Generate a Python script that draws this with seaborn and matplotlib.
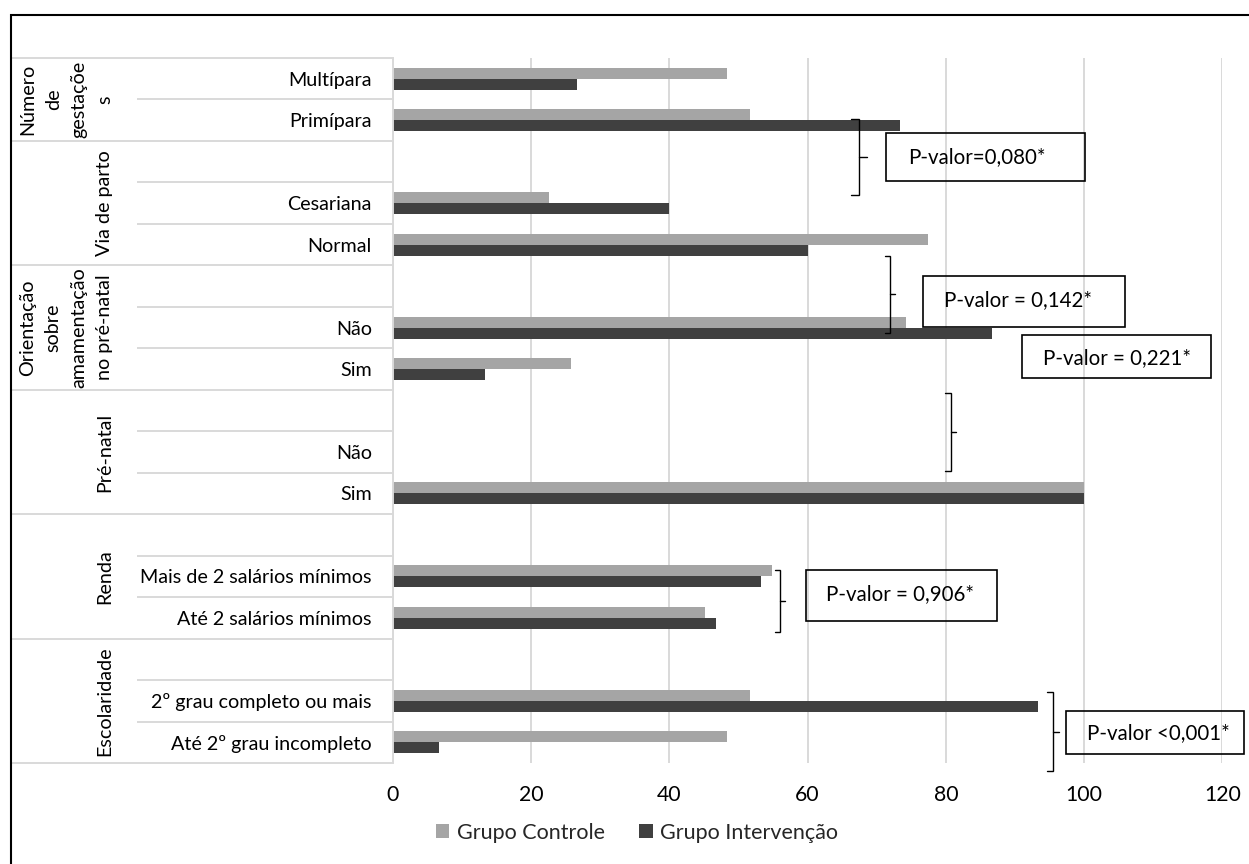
import matplotlib
matplotlib.use("Agg")
import matplotlib.pyplot as plt
import matplotlib.transforms as mtransforms
from matplotlib.patches import Rectangle
import seaborn as sns
import pandas as pd
import numpy as np

# ---------------- data ----------------
group_names = ["Número\nde\ngestaçõe\ns", "Via de parto",
               "Orientação\nsobre\namamentação\nno pré-natal", "Pré-natal",
               "Renda", "Escolaridade"]
row_labels = ["Multípara", "Primípara", "", "Cesariana", "Normal", "", "Não", "Sim",
              "", "Não", "Sim", "", "Mais de 2 salários mínimos", "Até 2 salários mínimos",
              "", "2º grau completo ou mais", "Até 2º grau incompleto"]
row_group = [0, 0, 1, 1, 1, 2, 2, 2, 3, 3, 3, 4, 4, 4, 5, 5, 5]
controle = [48.4, 51.6, None, 22.6, 77.4, None, 74.2, 25.8, None, 0.0, 100.0, None,
            54.8, 45.2, None, 51.6, 48.4]
intervencao = [26.7, 73.3, None, 40.0, 60.0, None, 86.7, 13.3, None, 0.0, 100.0, None,
               53.3, 46.7, None, 93.3, 6.7]
series_names = ["Grupo Controle", "Grupo Intervenção"]
x_ticks = [0, 20, 40, 60, 80, 100, 120]
pvalue_texts = ["P-valor=0,080*", "P-valor = 0,142*", "P-valor = 0,221*",
                "P-valor = 0,906*", "P-valor <0,001*"]

# ---------------- style ----------------
sns.set_theme(style="white")
plt.rcParams["font.family"] = ["Lato", "DejaVu Sans"]

W, H = 1249, 864
fig = plt.figure(figsize=(W / 100, H / 100), dpi=100)
ax_left, ax_right, ax_top, ax_bot = 392.7, 1222.5, 58, 763
ax = fig.add_axes([ax_left / W, 1 - ax_bot / H, (ax_right - ax_left) / W, (ax_bot - ax_top) / H])

row_keys = [f"row{i:02d}" for i in range(len(row_labels))]
recs = []
for k, c, v in zip(row_keys, controle, intervencao):
    if c is not None:
        recs.append({"row": k, "grupo": series_names[0], "valor": c})
        recs.append({"row": k, "grupo": series_names[1], "valor": v})
df = pd.DataFrame(recs)

sns.barplot(data=df, y="row", x="valor", hue="grupo", order=row_keys,
            hue_order=series_names, palette=["#A5A5A5", "#404040"],
            orient="h", width=0.53, errorbar=None, linewidth=0, ax=ax)

ax.set_xlim(0, 120)
ax.set_ylim(len(row_labels) - 0.5, -0.5)
ax.set_xticks(x_ticks)
ax.set_xticklabels([str(t) for t in x_ticks], fontsize=15.3, color="black")
ax.set_yticks(range(len(row_labels)))
ax.set_yticklabels(row_labels, fontsize=14.2, color="black")
ax.tick_params(axis="x", length=0, pad=16)
ax.tick_params(axis="y", length=0, pad=15)
ax.set_xlabel("")
ax.set_ylabel("")
ax.xaxis.grid(True, color="#D9D9D9", lw=1.4)
ax.yaxis.grid(False)
ax.set_axisbelow(True)
for s in ["top", "right", "bottom"]:
    ax.spines[s].set_visible(False)
ax.spines["left"].set_color("#D9D9D9")
ax.spines["left"].set_linewidth(1.4)

# category separators extending into the label area
trans = mtransforms.blended_transform_factory(fig.transFigure, ax.transData)
x_axis_fig = ax_left / W
for i in range(len(row_labels) + 1):
    yb = i - 0.5
    is_group = (i == 0 or i == len(row_labels) or row_group[i] != row_group[i - 1])
    x0 = (12 if is_group else 137) / W
    ax.plot([x0, x_axis_fig], [yb, yb], transform=trans, color="#D9D9D9",
            lw=1.4, clip_on=False, solid_capstyle="butt")

# group labels
for g, name in enumerate(group_names):
    rows = [i for i, rg in enumerate(row_group) if rg == g]
    yc = (rows[0] + rows[-1]) / 2
    ax.text(113 / W, yc, name, transform=trans, rotation=90, ha="right", va="center",
            multialignment="center", fontsize=14.2, linespacing=1.62, color="black")

# brackets and p-value boxes (positions in data units)
def bracket(x, x_hook, x_tick, y0, y1, ym):
    ax.plot([x_hook, x, x, x_hook], [y0, y0, y1, y1], color="black", lw=1.0,
            clip_on=False, solid_joinstyle="miter")
    ax.plot([x, x_tick], [ym, ym], color="black", lw=1.0, clip_on=False)

def box(x0, x1, y0, y1, tx, ty, text):
    ax.add_patch(Rectangle((x0, y0), x1 - x0, y1 - y0, fill=False, ec="black",
                           lw=1.2, clip_on=False, zorder=5))
    ax.text(tx, ty, text, ha="left", va="center", fontsize=14.8, color="black",
            zorder=6, clip_on=False)

bracket(67.43, 66.27, 68.59, 0.97, 2.80, 1.886)
box(71.36, 100.14, 1.307, 2.464, 74.54, 1.886, pvalue_texts[0])
bracket(71.93, 71.2, 72.64, 4.271, 6.127, 5.187)
box(76.68, 105.89, 4.753, 5.982, 79.72, 5.331, pvalue_texts[1])
box(91.00, 118.34, 6.175, 7.211, 94.04, 6.729, pvalue_texts[2])
bracket(80.74, 79.87, 81.46, 7.572, 9.452, 8.512)
bracket(56.01, 55.29, 56.73, 11.837, 13.331, 12.584)
box(59.77, 87.39, 11.837, 13.066, 62.66, 12.416, pvalue_texts[3])
bracket(95.49, 94.62, 96.36, 14.777, 16.681, 15.741)
box(97.37, 123.11, 15.235, 16.271, 100.41, 15.789, pvalue_texts[4])

# legend
sns.move_legend(ax, "center", bbox_to_anchor=(637 / W, 1 - 833 / H),
                bbox_transform=fig.transFigure, ncol=2, frameon=False, title=None,
                fontsize=15.5, handlelength=0.62, handleheight=0.62,
                handletextpad=0.35, columnspacing=1.6)

# outer border (top/left visible)
fig.add_artist(Rectangle((11 / W, -0.1), 2, (H - 15) / H + 0.1, transform=fig.transFigure,
                         fill=False, ec="black", lw=1.5))

fig.savefig("out.png", dpi=100)
